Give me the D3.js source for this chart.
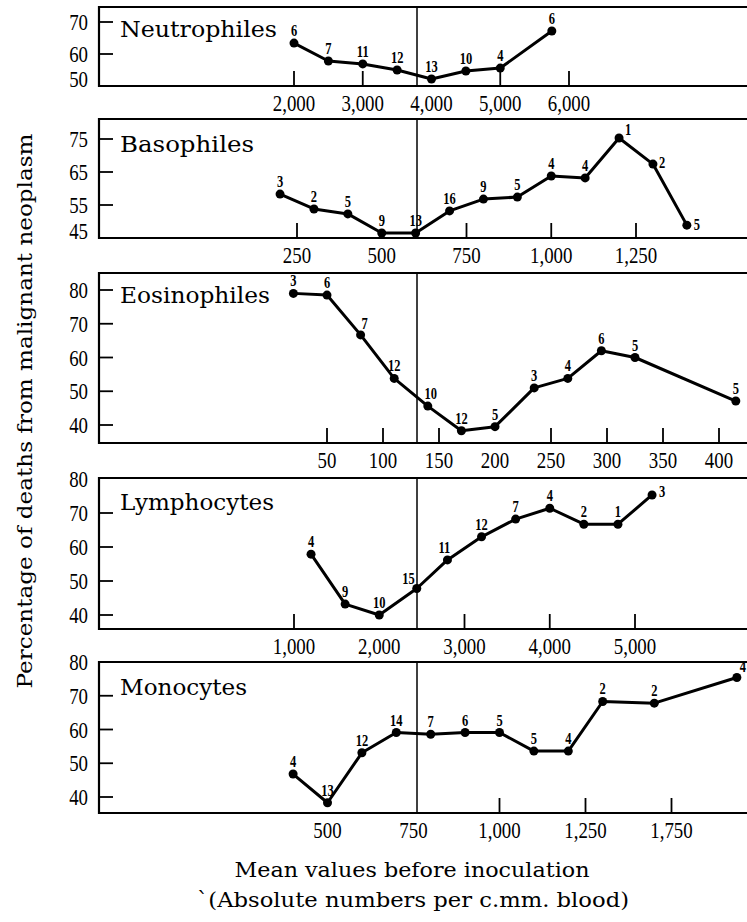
<!DOCTYPE html>
<html><head><meta charset="utf-8">
<script src="https://cdn.jsdelivr.net/npm/d3@7"></script>
<style>html,body{margin:0;padding:0;background:#fff;} svg{display:block;}</style>
</head><body>
<svg id="chart" width="747" height="922"></svg>
<script>
// ---------------- DATA ----------------
const neutroX = [2000, 2500, 3000, 3500, 4000, 4500, 5000, 5750];
const neutroY = [63.4, 57.8, 56.9, 55.0, 52.2, 54.7, 55.6, 67.2];
const neutroN = [6, 7, 11, 12, 13, 10, 4, 6];
const neutroTicks = [2000, 3000, 4000, 5000, 6000];
const neutroTickLabels = ["2,000", "3,000", "4,000", "5,000", "6,000"];
const neutroYTicks = [50, 60, 70];

const basoX = [200, 300, 400, 500, 600, 700, 800, 900, 1000, 1100, 1200, 1300, 1400];
const basoY = [58.3, 53.8, 52.3, 46.5, 46.5, 53.2, 56.8, 57.4, 63.8, 63.2, 75.3, 67.4, 48.9];
const basoN = [3, 2, 5, 9, 13, 16, 9, 5, 4, 4, 1, 2, 5];
const basoTicks = [250, 500, 750, 1000, 1250];
const basoTickLabels = ["250", "500", "750", "1,000", "1,250"];
const basoYTicks = [45, 55, 65, 75];

const eosX = [20, 50, 80, 110, 140, 170, 200, 235, 265, 295, 325, 415];
const eosY = [79.0, 78.5, 66.7, 53.8, 45.6, 38.3, 39.5, 51.0, 53.8, 62.0, 60.0, 47.1];
const eosN = [3, 6, 7, 12, 10, 12, 5, 3, 4, 6, 5, 5];
const eosTicks = [50, 100, 150, 200, 250, 300, 350, 400];
const eosTickLabels = ["50", "100", "150", "200", "250", "300", "350", "400"];
const eosYTicks = [40, 50, 60, 70, 80];

const lymphX = [1200, 1600, 2000, 2440, 2800, 3200, 3600, 4000, 4400, 4800, 5200];
const lymphY = [57.9, 43.2, 40.0, 47.8, 56.2, 63.0, 68.2, 71.4, 66.7, 66.7, 75.3];
const lymphN = [4, 9, 10, 15, 11, 12, 7, 4, 2, 1, 3];
const lymphTicks = [1000, 2000, 3000, 4000, 5000];
const lymphTickLabels = ["1,000", "2,000", "3,000", "4,000", "5,000"];
const lymphYTicks = [40, 50, 60, 70, 80];

const monoX = [400, 500, 600, 700, 800, 900, 1000, 1100, 1200, 1300, 1450, 1690];
const monoY = [46.8, 38.3, 53.1, 59.1, 58.6, 59.1, 59.1, 53.6, 53.6, 68.3, 67.8, 75.4];
const monoN = [4, 13, 12, 14, 7, 6, 5, 5, 4, 2, 2, 4];
const monoTicks = [500, 750, 1000, 1250, 1500];
const monoTickLabels = ["500", "750", "1,000", "1,250", "1,750"];
const monoYTicks = [40, 50, 60, 70, 80];

const panelTitles = ["Neutrophiles", "Basophiles", "Eosinophiles", "Lymphocytes", "Monocytes"];
const yAxisTitle = "Percentage of deaths from malignant neoplasm";
const xAxisTitle1 = "Mean values before inoculation";
const xAxisTitle2 = "`(Absolute numbers per c.mm. blood)";

// ---------------- LAYOUT ----------------
const W = 747, H = 922;
const frameLeft = 99, midLineX = 417;
const svg = d3.select("#chart");
svg.append("rect").attr("width", W).attr("height", H).attr("fill", "#fff");

const numFont = "'Liberation Serif', 'DejaVu Serif', serif";
const titleFont = "'DejaVu Serif', serif";

const panels = [
  {title: panelTitles[0], xs: neutroX, ys: neutroY, ns: neutroN, ticks: neutroTicks, tickLabels: neutroTickLabels,
   marks: [2000, 3000, 5000, 6000], yTicks: neutroYTicks,
   top: 7, bottom: 86, yDom: [50, 70], yRng: [86, 22], xDom: [2000, 6000], xRng: [294, 569],
   titleY: 37, titleW: 157, place: {}},
  {title: panelTitles[1], xs: basoX, ys: basoY, ns: basoN, ticks: basoTicks, tickLabels: basoTickLabels,
   marks: [250, 750, 1000, 1250], yTicks: basoYTicks,
   top: 119, bottom: 238, yDom: [45, 75], yRng: [238, 139], xDom: [250, 1250], xRng: [297, 636],
   titleY: 152, titleW: 134, place: {10: [6, -3, "start"], 11: [6, 4, "start"], 12: [7, 5, "start"]}},
  {title: panelTitles[2], xs: eosX, ys: eosY, ns: eosN, ticks: eosTicks, tickLabels: eosTickLabels,
   marks: [50, 100, 150, 250, 300, 350, 400], yTicks: eosYTicks,
   top: 273, bottom: 443, yDom: [40, 80], yRng: [425, 290], xDom: [50, 400], xRng: [327, 719],
   titleY: 303, titleW: 150, place: {2: [4, -6, "middle"], 4: [3, -7, "middle"]}},
  {title: panelTitles[3], xs: lymphX, ys: lymphY, ns: lymphN, ticks: lymphTicks, tickLabels: lymphTickLabels,
   marks: [1000, 3000, 4000, 5000], yTicks: lymphYTicks,
   top: 478, bottom: 629, yDom: [40, 80], yRng: [615, 479], xDom: [1000, 5000], xRng: [294, 635],
   titleY: 510, titleW: 154, place: {3: [-2, -4, "end"], 4: [-3, -7, "middle"], 10: [7, 2, "start"]}},
  {title: panelTitles[4], xs: monoX, ys: monoY, ns: monoN, ticks: monoTicks, tickLabels: monoTickLabels,
   marks: [1000, 1250, 1500], yTicks: monoYTicks,
   top: 662, bottom: 813, yDom: [40, 80], yRng: [797, 662], xDom: [500, 1500], xRng: [327.5, 671.5],
   titleY: 695, titleW: 127, place: {11: [3, -6, "start"]}}
];

function scaledText(g, x, y, txt, opts) {
  return g.append("text")
    .attr("transform", `translate(${x},${y}) scale(${opts.sx || 1},1)`)
    .attr("text-anchor", opts.anchor || "middle")
    .attr("font-family", opts.family || numFont)
    .attr("font-size", opts.size || 20)
    .attr("font-weight", opts.weight || "normal")
    .attr("fill", "#000")
    .text(txt);
}

panels.forEach(p => {
  const g = svg.append("g");
  const x = d3.scaleLinear().domain(p.xDom).range(p.xRng);
  const y = d3.scaleLinear().domain(p.yDom).range(p.yRng);

  g.append("path")
    .attr("d", `M${W + 10},${p.top} H${frameLeft} V${p.bottom} H${W + 10}`)
    .attr("fill", "none").attr("stroke", "#000").attr("stroke-width", 2.2);

  g.append("line").attr("x1", midLineX).attr("x2", midLineX)
    .attr("y1", p.top).attr("y2", p.bottom)
    .attr("stroke", "#000").attr("stroke-width", 1.5);

  p.yTicks.forEach(v => {
    const yy = y(v);
    const atEdge = Math.abs(yy - p.bottom) < 2 || Math.abs(yy - p.top) < 2;
    if (!atEdge) {
      g.append("line").attr("x1", frameLeft).attr("x2", frameLeft + 14)
        .attr("y1", yy).attr("y2", yy).attr("stroke", "#000").attr("stroke-width", 1.8);
    }
    const ly = Math.abs(yy - p.bottom) < 2 ? p.bottom + 1 : yy + 8;
    scaledText(g, 88, ly, String(v), {anchor: "end", size: 23, sx: 0.82});
  });

  p.marks.forEach(v => {
    g.append("line").attr("x1", x(v)).attr("x2", x(v))
      .attr("y1", p.bottom).attr("y2", p.bottom - 15)
      .attr("stroke", "#000").attr("stroke-width", 1.8);
  });
  p.ticks.forEach((v, i) => {
    scaledText(g, x(v), p.bottom + 25, p.tickLabels[i], {size: 23, sx: 0.82});
  });

  g.append("text").attr("x", 120).attr("y", p.titleY)
    .attr("font-family", titleFont).attr("font-size", 22)
    .attr("textLength", p.titleW).attr("lengthAdjust", "spacingAndGlyphs")
    .attr("fill", "#000").text(p.title);

  const pts = p.xs.map((v, i) => [x(v), y(p.ys[i])]);
  g.append("path").attr("d", d3.line()(pts))
    .attr("fill", "none").attr("stroke", "#000").attr("stroke-width", 3)
    .attr("stroke-linejoin", "round");
  g.selectAll("circle.pt").data(pts).enter().append("circle")
    .attr("cx", d => d[0]).attr("cy", d => d[1]).attr("r", 4.5).attr("fill", "#000");

  pts.forEach((d, i) => {
    const pl = p.place[i] || [0, -7, "middle"];
    scaledText(g, d[0] + pl[0], d[1] + pl[1], String(p.ns[i]),
      {anchor: pl[2], size: 16, sx: 0.78, weight: "bold"});
  });
});

svg.append("text")
  .attr("transform", "translate(32,411) rotate(-90)")
  .attr("text-anchor", "middle")
  .attr("font-family", titleFont).attr("font-size", 20)
  .attr("textLength", 555).attr("lengthAdjust", "spacingAndGlyphs")
  .attr("fill", "#000").text(yAxisTitle);

svg.append("text").attr("x", 412).attr("y", 877).attr("text-anchor", "middle")
  .attr("font-family", titleFont).attr("font-size", 21)
  .attr("textLength", 355).attr("lengthAdjust", "spacingAndGlyphs")
  .attr("fill", "#000").text(xAxisTitle1);
svg.append("text").attr("x", 413).attr("y", 907).attr("text-anchor", "middle")
  .attr("font-family", titleFont).attr("font-size", 21)
  .attr("textLength", 432).attr("lengthAdjust", "spacingAndGlyphs")
  .attr("fill", "#000").text(xAxisTitle2);
</script>
</body></html>
